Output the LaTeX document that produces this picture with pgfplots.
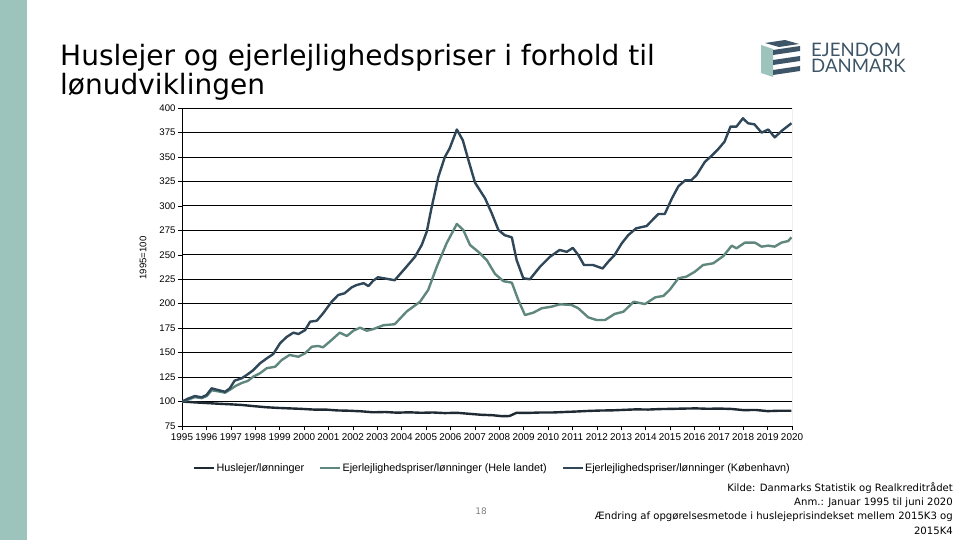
\documentclass[border=0pt]{standalone}
\usepackage{pgfplots}
\pgfplotsset{compat=1.18}
\usepackage{fontspec}
\setmainfont{Liberation Sans}
\newfontfamily\titlefont{DejaVu Sans}
\newfontfamily\logofont{Lato}

\definecolor{sidebar}{HTML}{9CC4BC}
\definecolor{husl}{HTML}{1F2A33}
\definecolor{hele}{HTML}{5F877E}
\definecolor{kbh}{HTML}{2F4759}
\definecolor{logoc}{HTML}{3D5566}

\begin{document}
\begin{tikzpicture}[x=1pt,y=1pt]
\path[use as bounding box, fill=white] (0,0) rectangle (960,540);
\fill[sidebar] (0,0) rectangle (27,540);

% title
\node[anchor=base west, inner sep=0, font=\titlefont\fontsize{28}{30}\selectfont] at (60,474) {Huslejer og ejerlejlighedspriser i forhold til};
\node[anchor=base west, inner sep=0, font=\titlefont\fontsize{28}{30}\selectfont] at (60,445) {lønudviklingen};

% logo
\fill[sidebar] (761,495) -- (773,491) -- (773,463) -- (761,467) -- cycle;
\fill[logoc] (765,497) -- (785,500) -- (799,496) -- (779,493) -- cycle;
\foreach \k in {0,1,2} {
  \fill[logoc] (773,490-10*\k) -- (800,494-10*\k) -- (800,489-10*\k) -- (773,485-10*\k) -- cycle;
}
\node[anchor=north west, inner sep=0, align=left, text=logoc, font=\logofont\fontsize{18.6}{15.7}\selectfont] at (811,497) {EJENDOM\\DANMARK};

\begin{axis}[
    at={(182pt,114pt)}, anchor=south west,
    scale only axis, width=610pt, height=318pt,
    xmin=1995, xmax=2020.523,
    ymin=75, ymax=400,
    ytick={75,100,...,400},
    xtick={1995,1996.021,1997.042,1998.063,1999.084,2000.105,2001.125,2002.146,2003.167,2004.188,2005.209,2006.230,2007.251,2008.272,2009.293,2010.314,2011.334,2012.355,2013.376,2014.397,2015.418,2016.439,2017.460,2018.481,2019.502,2020.523},
    xticklabels={1995,1996,1997,1998,1999,2000,2001,2002,2003,2004,2005,2006,2007,2008,2009,2010,2011,2012,2013,2014,2015,2016,2017,2018,2019,2020},
    minor x tick num=11,
    axis x line*=bottom, axis y line*=left,
    axis line style={black, line width=0.8pt, -},
    tick align=outside,
    major tick length=4pt, minor tick length=4pt,
    tick style={black, line width=0.5pt},
    ymajorgrids, major grid style={black, line width=0.8pt},
    /pgf/number format/assume math mode=true,
    yticklabel style={font=\fontsize{9.6}{10}\selectfont, xshift=1pt},
    xticklabel style={font=\fontsize{9.9}{10}\selectfont, inner xsep=0pt},
    legend columns=3,
    legend style={at={(axis description cs:0.018,-0.132)}, anchor=west,
      draw=none, fill=none, inner sep=0pt,
      font=\fontsize{10.8}{12}\selectfont,
      nodes={inner xsep=1pt},
      /tikz/every even column/.append style={column sep=14pt}},
    legend image code/.code={\draw[#1] (0pt,0pt) -- (20pt,0pt);},
    every axis plot/.append style={line width=2.4pt, line join=round},
]
\addplot[husl] coordinates {
(1995.0,100) (1995.5,99.2) (1996.0,98.5) (1996.5,97.8) (1997.0,97.2) (1997.5,96.5)
(1998.0,95.3) (1998.5,94.2) (1999.0,93.5) (1999.5,93) (2000.0,92.5) (2000.5,91.8)
(2001.0,91.8) (2001.5,90.9) (2002.0,90.6) (2002.5,90) (2003.0,89) (2003.5,89.3)
(2004.0,88.6) (2004.5,89) (2005.0,88.5) (2005.5,88.8) (2006.0,88.2) (2006.5,88.5)
(2007.0,87.5) (2007.5,86.5) (2008.0,86) (2008.4,85) (2008.7,85.2) (2009.0,88.5)
(2009.5,88.4) (2010.0,88.8) (2010.5,88.8) (2011.0,89.3) (2011.5,89.8) (2012.0,90.4)
(2012.5,90.8) (2013.0,91) (2013.5,91.5) (2014.0,92) (2014.5,91.8) (2015.0,92.3)
(2015.5,92.5) (2016.0,92.8) (2016.5,93) (2017.0,92.6) (2017.5,92.8) (2018.0,92.4)
(2018.5,91.2) (2019.0,91.4) (2019.5,90.2) (2020.0,90.6) (2020.5,90.6)
};
\addlegendentry{Huslejer/lønninger}

\addplot[hele] coordinates {
(1995.00,100) (1995.26,102) (1995.54,104.5) (1995.82,103.5) (1996.03,105.5) (1996.24,111.5)
(1996.50,110.5) (1996.80,109) (1997.00,112) (1997.25,116) (1997.50,119) (1997.75,121)
(1997.98,125.4) (1998.26,128.8) (1998.54,134) (1998.90,135.6) (1999.17,142.4) (1999.50,147.6)
(1999.87,145.8) (2000.15,149.3) (2000.43,156) (2000.70,156.8) (2000.90,155.4) (2001.26,162.9)
(2001.60,170.4) (2001.90,167) (2002.17,172.4) (2002.45,175.5) (2002.73,172.4) (2003.00,174)
(2003.43,178) (2003.90,179) (2004.40,192) (2004.96,202) (2005.30,214) (2005.66,237.8)
(2006.07,261.7) (2006.50,281.5) (2006.77,275.3) (2007.05,260) (2007.40,253) (2007.75,244.6)
(2008.10,230.3) (2008.45,223) (2008.80,221.5) (2009.07,203.8) (2009.35,188.4) (2009.70,190.8)
(2010.05,195.3) (2010.47,197) (2010.82,199.4) (2011.30,198.7) (2011.58,195.3) (2012.00,186)
(2012.35,183.3) (2012.70,183.3) (2013.10,189.5) (2013.47,191.8) (2013.90,202) (2014.37,199.6)
(2014.80,206.5) (2015.14,207.9) (2015.40,214) (2015.77,226) (2016.10,227.6) (2016.46,232.7)
(2016.80,239.5) (2017.23,241.3) (2017.65,248.7) (2018.00,259.3) (2018.20,256.6) (2018.55,262.4)
(2018.97,262.4) (2019.25,258.3) (2019.53,259.3) (2019.80,258.3) (2020.08,262.4) (2020.36,264)
(2020.50,267.8)
};
\addlegendentry{Ejerlejlighedspriser/lønninger (Hele landet)}

\addplot[kbh] coordinates {
(1995.00,100) (1995.26,103) (1995.54,105.6) (1995.82,104.3) (1996.03,106.7) (1996.24,113.5)
(1996.50,111.8) (1996.80,110) (1997.00,113.5) (1997.20,121.3) (1997.50,123.8) (1997.70,127)
(1997.98,132) (1998.26,139) (1998.54,144) (1998.82,148.6) (1999.10,159.5) (1999.38,166)
(1999.66,170.4) (1999.87,169) (2000.15,173) (2000.36,181.6) (2000.64,182.6) (2000.90,190)
(2001.26,202) (2001.54,208.9) (2001.80,210.6) (2002.10,216.7) (2002.30,219) (2002.60,221)
(2002.80,218) (2003.00,223.5) (2003.20,227) (2003.90,224) (2004.33,236) (2004.75,248)
(2005.03,260) (2005.24,273.6) (2005.45,299) (2005.73,330) (2006.00,350) (2006.20,358.8)
(2006.50,378) (2006.75,367) (2006.98,347) (2007.26,323.7) (2007.68,307.7) (2007.96,292.4)
(2008.24,275.3) (2008.50,270) (2008.80,267.8) (2009.00,244.7) (2009.28,226) (2009.56,225)
(2009.98,237.8) (2010.40,248) (2010.80,254.9) (2011.10,253) (2011.35,257) (2011.58,249.8)
(2011.82,239.5) (2012.20,239.5) (2012.60,236) (2012.84,243) (2013.10,249.8) (2013.40,261.7)
(2013.67,270) (2014.00,277) (2014.44,279.4) (2014.93,291.7) (2015.20,291.7) (2015.50,307.7)
(2015.77,320) (2016.05,326) (2016.30,326) (2016.53,331.5) (2016.88,345) (2017.15,351)
(2017.43,357.8) (2017.70,365.6) (2017.95,381) (2018.20,381) (2018.47,389.5) (2018.68,384.4)
(2018.95,383.3) (2019.25,374.8) (2019.53,378) (2019.80,370) (2020.10,376.8) (2020.50,384.4)
};
\addlegendentry{Ejerlejlighedspriser/lønninger (København)}

\draw[gray, line width=1pt] (rel axis cs:1,0) -- (rel axis cs:1,1);
\end{axis}

\node[rotate=90, inner sep=0, font=\fontsize{9.6}{10}\selectfont] at (143,282) {1995=100};
\node[inner sep=0, text=gray, font=\titlefont\fontsize{9}{10}\selectfont] at (481,29) {18};
\node[anchor=north east, align=right, inner sep=0, font=\titlefont\fontsize{10.1}{14.4}\selectfont] at (953,58) {Kilde: Danmarks Statistik og Realkreditrådet\\Anm.: Januar 1995 til juni 2020\\Ændring af opgørelsesmetode i huslejeprisindekset mellem 2015K3 og\\2015K4};
\end{tikzpicture}
\end{document}
